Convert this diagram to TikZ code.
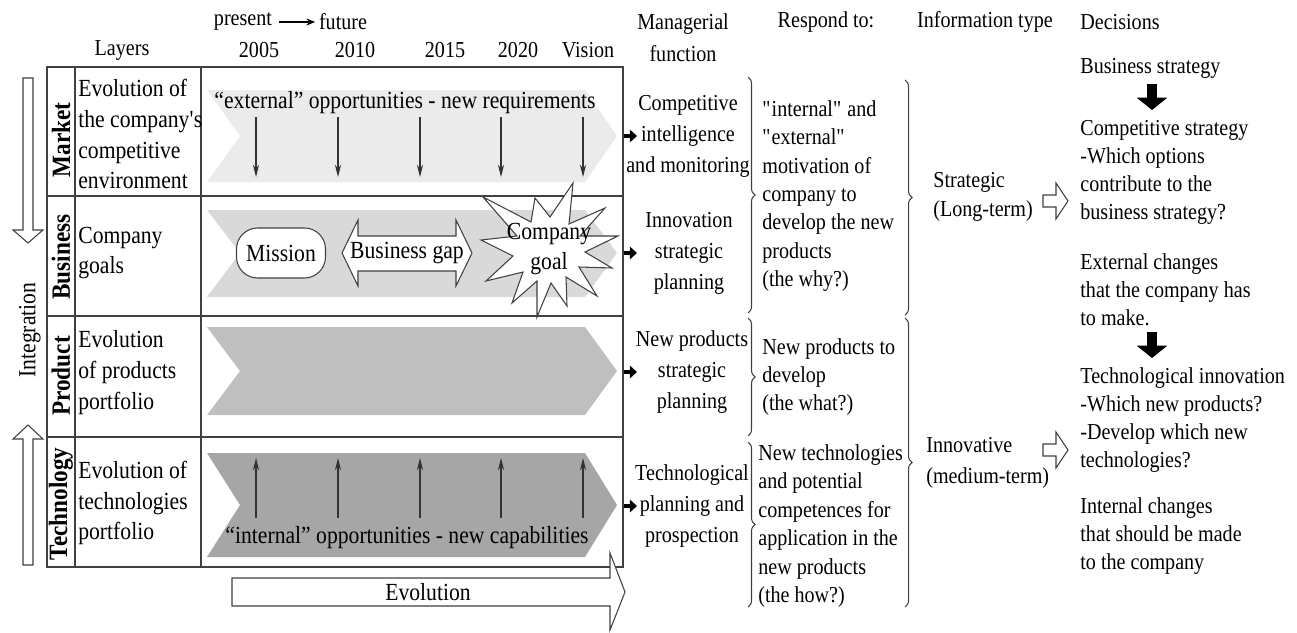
\documentclass[tikz,border=0pt]{standalone}
\usepackage{fontspec}
\setmainfont{Liberation Serif}[FakeStretch=0.88]
\usetikzlibrary{arrows.meta,decorations.pathreplacing}

\begin{document}
\begin{tikzpicture}
		% units are roughly pixels of the original, y grows downwards
		[x=0.02cm, y=-0.02cm,
		big/.style={font=\fontsize{14}{17.6}\selectfont, inner sep=0pt},
		small/.style={font=\fontsize{13}{17.6}\selectfont, inner sep=0pt},
		leftblock/.style={small, align=left, anchor=west},
		midblock/.style={small, align=center},
		layer/.style={font=\fontsize{15}{17.6}\selectfont\bfseries, inner sep=0pt, rotate=90},
		grid/.style={draw=black!75, line width=0.6pt},
		tick/.style={black!80, line width=0.6pt, -{Stealth[length=7pt,width=3.5pt]}},
		hollow/.style={draw=black!75, fill=white, line width=0.6pt},
		pointer/.style={line width=2pt, -{Triangle[length=4pt,width=7pt]}},
		bigdown/.style={line width=6pt, -{Triangle[length=7pt,width=17pt]}},
		bracket/.style={decorate, decoration={brace, amplitude=4pt}, black!75, line width=0.6pt}]

		\useasboundingbox (0,0) rectangle (1297,632);

		% Column headings
		\node[small] (present) at (243,22) {present};
		\node[small] (future) at (343,22) {future};
		\draw[line width=0.6pt, -{Stealth[length=5pt,width=4pt]}, shorten <=4pt, shorten >=2pt] (present) -- (future);
		\node[small] (layers) at (122,50) {Layers};
		\node[small] (y2005) at (259,50) {2005};
		\node[small] (y2010) at (355,50) {2010};
		\node[small] (y2015) at (445,50) {2015};
		\node[small] (y2020) at (518,50) {2020};
		\node[small] (vision) at (588,50) {Vision};
		\node[midblock, font=\fontsize{13}{18.2}\selectfont] (hmf) at (683,38) {Managerial\\function};
		\node[small] (hresp) at (826,22) {Respond to:};
		\node[small] (hinfo) at (985,22) {Information type};
		\node[small, anchor=west] (hdec) at (1080,22) {Decisions};

		% The four layer chevrons
		\fill[black!8]  (207,90)  -- (585,90)  -- (617,136) -- (585,182) -- (207,182) -- (240,136) -- cycle;
		\fill[black!15] (207,210) -- (585,210) -- (617,253) -- (585,297) -- (207,297) -- (240,253) -- cycle;
		\fill[black!25] (207,327) -- (585,327) -- (617,371) -- (585,415) -- (207,415) -- (240,371) -- cycle;
		\fill[black!35] (207,453) -- (585,453) -- (617,505) -- (585,557) -- (207,557) -- (240,505) -- cycle;

		% The table
		\draw[grid] (47,67) rectangle (623,567);
		\draw[grid] (75,67) -- (75,567);
		\draw[grid] (201,67) -- (201,567);
		\foreach \y in {196,316,437}
			\draw[grid] (47,\y) -- (623,\y);

		% Layer names and descriptions
		\node[layer] (market) at (61,140) {Market};
		\node[layer] (business) at (61,257) {Business};
		\node[layer] (product) at (61,376) {Product};
		\node[layer] (technology) at (61,504) {Technology};

		\node[big, align=left, anchor=west] (dmarket) at (78,134) {Evolution of\\the company\textquotesingle s\\competitive\\environment};
		\node[big, align=left, anchor=west] (dbusiness) at (78,253) {Company\\goals};
		\node[big, align=left, anchor=west] (dproduct) at (78,373) {Evolution\\of products\\portfolio};
		\node[big, align=left, anchor=west] (dtechnology) at (78,503) {Evolution of\\technologies\\portfolio};

		% Market: external opportunities
		\node[big] (external) at (405,103) {``external'' opportunities - new requirements};
		\foreach \x [count=\i] in {256,338,420,501,583} {
			\coordinate (ext-a-\i) at (\x,117);
			\coordinate (ext-b-\i) at (\x,177);
			\draw[tick] (ext-a-\i) -- (ext-b-\i);
		}

		% Technology: internal opportunities
		\node[big] (internal) at (407,538) {``internal'' opportunities - new capabilities};
		\foreach \x [count=\i] in {256,338,420,501,583} {
			\coordinate (int-a-\i) at (\x,518);
			\coordinate (int-b-\i) at (\x,458);
			\draw[tick] (int-a-\i) -- (int-b-\i);
		}

		% Business: mission, gap and goal
		\node[hollow, rounded corners=12pt, minimum width=1.78cm, minimum height=1cm, big] (mission) at (281,253) {Mission};
		\draw[hollow] (342,253) -- (358,220) -- (358,236) -- (456,236) -- (456,220) -- (472,253)
			-- (456,286) -- (456,271) -- (358,271) -- (358,286) -- cycle;
		\node[big] (gap) at (407,253) {Business gap};
		% the goal as a starburst
		\draw[hollow] (573,183) -- (569,224) -- (605,208) -- (580,236) -- (618,236) -- (585,252)
			-- (612,268) -- (579,267) -- (597,296) -- (566,277) -- (567,306) -- (551,283)
			-- (537,317) -- (537,281) -- (512,303) -- (523,272) -- (486,281) -- (513,256)
			-- (481,240) -- (517,236) -- (483,197) -- (531,222) -- (535,198) -- (550,217) -- cycle;
		\node[big, align=center] (goal) at (549,249) {Company\\goal};

		% Evolution arrow
		\draw[hollow] (232,578) -- (610,578) -- (610,553) -- (625,592) -- (610,630) -- (610,606) -- (232,606) -- cycle;
		\node[big] (evolution) at (428,592) {Evolution};

		% Integration arrows
		\draw[hollow] (23,78) -- (33,78) -- (33,230) -- (43,230) -- (28,243) -- (13,230) -- (23,230) -- cycle;
		\draw[hollow] (23,565) -- (33,565) -- (33,439) -- (43,439) -- (28,425) -- (13,439) -- (23,439) -- cycle;
		\node[big, rotate=90] (integration) at (30,330) {Integration};

		% Managerial functions
		\foreach \y [count=\i] in {136,253,372,506} {
			\coordinate (pt-a-\i) at (624,\y);
			\coordinate (pt-b-\i) at (637,\y);
			\draw[pointer] (pt-a-\i) -- (pt-b-\i);
		}
		\node[midblock] (mfmarket) at (688,136) {Competitive\\intelligence\\and monitoring};
		\node[midblock] (mfbusiness) at (689,253) {Innovation\\strategic\\planning};
		\node[midblock] (mfproduct) at (692,372) {New products\\strategic\\planning};
		\node[midblock] (mftechnology) at (692,506) {Technological\\planning and\\prospection};

		% Respond to
		\draw[bracket] (748,77) -- (748,313);
		\draw[bracket] (748,318) -- (748,436);
		\draw[bracket] (748,442) -- (748,607);
		\node[leftblock, font=\fontsize{13}{16.2}\selectfont] (why) at (762,196)
			{\textquotedbl internal\textquotedbl{} and\\\textquotedbl external\textquotedbl\\motivation of\\company to\\develop the new\\products\\(the why?)};
		\node[leftblock, font=\fontsize{13}{16.2}\selectfont] (what) at (762,377)
			{New products to\\develop\\(the what?)};
		\node[leftblock, font=\fontsize{13}{16.2}\selectfont] (how) at (758,526)
			{New technologies\\and potential\\competences for\\application in the\\new products\\(the how?)};

		% Information type
		\draw[bracket] (905,80) -- (905,315);
		\draw[bracket] (905,318) -- (905,607);
		\node[leftblock, font=\fontsize{13}{16.5}\selectfont] (strategic) at (933,197) {Strategic\\(Long-term)};
		\node[leftblock, font=\fontsize{13}{17.6}\selectfont] (innovative) at (926,463) {Innovative\\(medium-term)};
		\draw[hollow] (1043,195) -- (1056,195) -- (1056,183) -- (1068,201) -- (1056,219) -- (1056,207) -- (1043,207) -- cycle;
		\draw[hollow] (1043,444) -- (1056,444) -- (1056,432) -- (1068,450) -- (1056,468) -- (1056,456) -- (1043,456) -- cycle;

		% Decisions
		\node[leftblock] (dbiz) at (1080,68) {Business strategy};
		\node[leftblock, font=\fontsize{13}{15.9}\selectfont] (dcomp) at (1080,172)
			{Competitive strategy\\-Which options\\contribute to the\\business strategy?};
		\node[leftblock, font=\fontsize{13}{15.9}\selectfont] (dext) at (1080,290)
			{External changes\\that the company has\\to make.};
		\node[leftblock, font=\fontsize{13}{15.9}\selectfont] (dtech) at (1080,420)
			{Technological innovation\\-Which new products?\\-Develop which new\\technologies?};
		\node[leftblock, font=\fontsize{13}{15.9}\selectfont] (dint) at (1080,536)
			{Internal changes\\that should be made\\to the company};
		\coordinate (dn-a-1) at (1152,84);
		\coordinate (dn-b-1) at (1152,110);
		\coordinate (dn-a-2) at (1152,332);
		\coordinate (dn-b-2) at (1152,358);
		\draw[bigdown] (dn-a-1) -- (dn-b-1);
		\draw[bigdown] (dn-a-2) -- (dn-b-2);
	\end{tikzpicture}
\end{document}
